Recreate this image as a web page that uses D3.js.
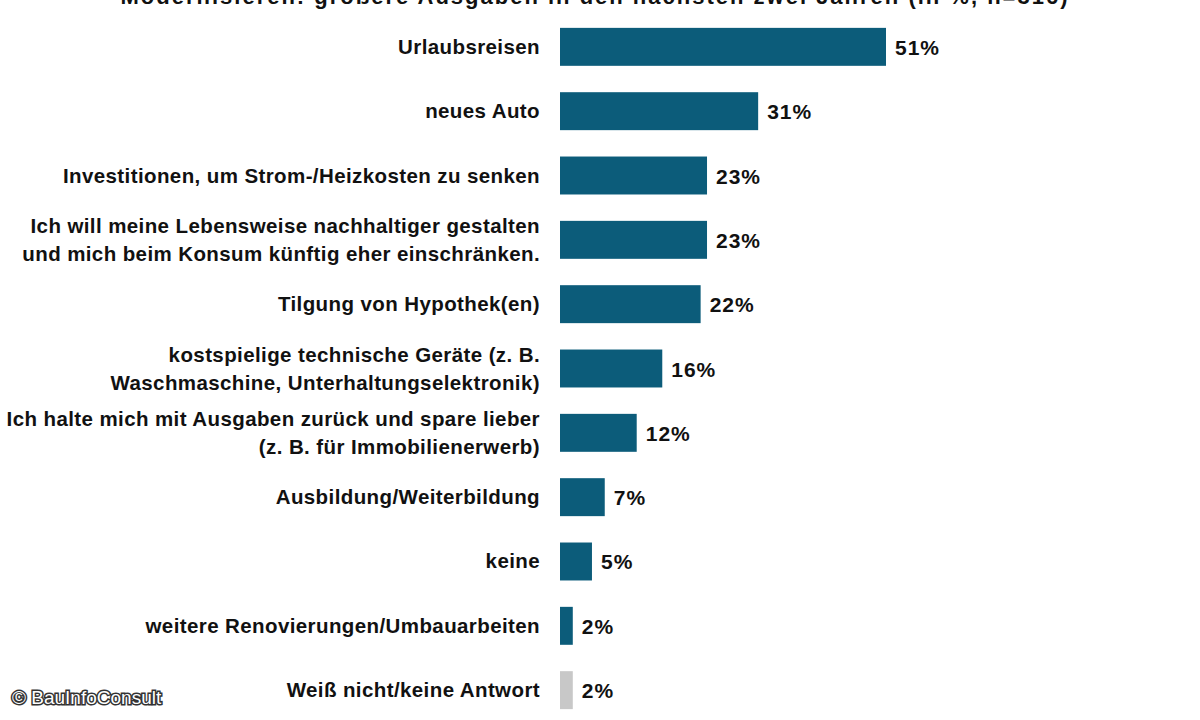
<!DOCTYPE html>
<html><head><meta charset="utf-8">
<script src="https://cdn.jsdelivr.net/npm/d3@7"></script>
<style>body{margin:0;background:#fff}svg{display:block}</style>
</head><body>
<script>
const categories = [
  ['Urlaubsreisen'],
  ['neues Auto'],
  ['Investitionen, um Strom-/Heizkosten zu senken'],
  ['Ich will meine Lebensweise nachhaltiger gestalten', 'und mich beim Konsum künftig eher einschränken.'],
  ['Tilgung von Hypothek(en)'],
  ['kostspielige technische Geräte (z. B.', 'Waschmaschine, Unterhaltungselektronik)'],
  ['Ich halte mich mit Ausgaben zurück und spare lieber', '(z. B. für Immobilienerwerb)'],
  ['Ausbildung/Weiterbildung'],
  ['keine'],
  ['weitere Renovierungen/Umbauarbeiten'],
  ['Weiß nicht/keine Antwort']
];
const values = [51, 31, 23, 23, 22, 16, 12, 7, 5, 2, 2];
const title = 'Modernisieren: größere Ausgaben in den nächsten zwei Jahren (in %, n=316)';

const W = 1200, H = 720;
const svg = d3.select('body').append('svg').attr('width', W).attr('height', H)
  .style('font-family', '"Liberation Sans", Arial, sans-serif').style('font-weight', 'bold');

const x = d3.scaleLinear().domain([0, 51]).range([560, 886]);
const y = d3.scaleBand().domain(d3.range(values.length)).range([15, 722]).paddingInner(0.41).paddingOuter(0.2);

svg.append('text').attr('x', 595).attr('y', 4).attr('text-anchor', 'middle')
  .attr('font-size', 22).attr('letter-spacing', 2).attr('fill', '#111').text(title);

const g = svg.selectAll('g.row').data(values).enter().append('g');
g.append('rect')
  .attr('x', x(0)).attr('y', (d, i) => y(i))
  .attr('width', d => x(d) - x(0)).attr('height', y.bandwidth())
  .attr('fill', (d, i) => i === values.length - 1 ? '#c8c8c8' : '#0c5c7a');
g.append('text')
  .attr('x', d => x(d) + 9).attr('y', (d, i) => y(i) + y.bandwidth() / 2 + 8)
  .attr('font-size', 21).attr('fill', '#111').attr('letter-spacing', 1)
  .text(d => d + '%');
g.each(function (d, i) {
  const lines = categories[i];
  const t = d3.select(this).append('text').attr('text-anchor', 'end')
    .attr('font-size', 20.5).attr('fill', '#111').attr('letter-spacing', 0.4);
  lines.forEach((l, k) => {
    t.append('tspan').attr('x', 540)
      .attr('y', y(i) + y.bandwidth() / 2 + 7 + (k - (lines.length - 1) / 2) * 28)
      .text(l);
  });
});

svg.append('text').attr('x', 12).attr('y', 704).attr('font-size', 19)
  .attr('font-weight', 'normal').attr('fill', '#fff')
  .attr('stroke', '#333').attr('stroke-width', 3).attr('paint-order', 'stroke')
  .text('© BauInfoConsult');
</script>
</body></html>
